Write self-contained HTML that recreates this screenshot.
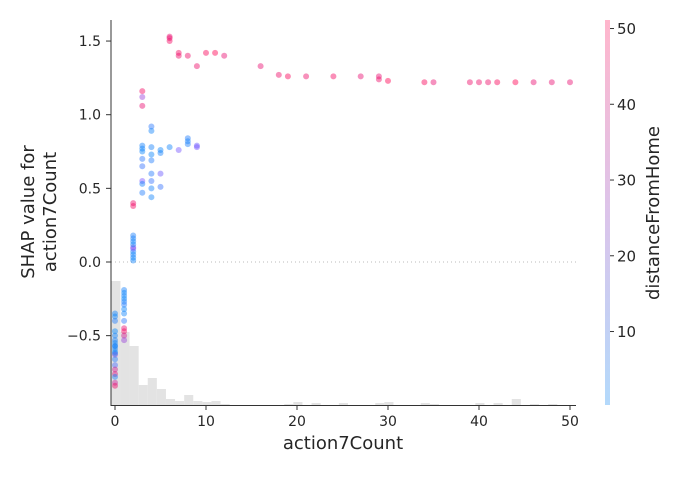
<!DOCTYPE html>
<html><head><meta charset="utf-8"><style>
body{margin:0;background:#fff;}
svg text{font-family:"DejaVu Sans","Liberation Sans",sans-serif;fill:#262626;}
</style></head><body>
<svg id="chart" width="682" height="473" viewBox="0 0 682 473" xmlns="http://www.w3.org/2000/svg">
<defs>
<linearGradient id="cb" x1="0" y1="1" x2="0" y2="0">
<stop offset="0" stop-color="#b3d9fb"/>
<stop offset="0.5" stop-color="#dcc4ea"/>
<stop offset="1" stop-color="#ffb6cc"/>
</linearGradient>
</defs>
<g id="hist"></g>
<line x1="111" y1="262" x2="576" y2="262" stroke="#bbb" stroke-width="1" stroke-dasharray="1,3"/>
<g id="pts"></g>
<line x1="111" y1="20" x2="111" y2="405.5" stroke="#333" stroke-width="1"/>
<line x1="110.5" y1="405.5" x2="576" y2="405.5" stroke="#333" stroke-width="1"/>
<g id="xt"></g>
<g id="yt"></g>
<text x="343" y="449" font-size="18" text-anchor="middle">action7Count</text>
<g transform="translate(34,212) rotate(-90)">
<text x="0" y="0" font-size="18" text-anchor="middle">SHAP value for</text>
<text x="0" y="22" font-size="18" text-anchor="middle">action7Count</text>
</g>
<rect x="605" y="20" width="5" height="385" fill="url(#cb)"/>
<g id="ct"></g>
<text transform="translate(659,213) rotate(-90)" font-size="18" text-anchor="middle">distanceFromHome</text>
</svg>
<script>
const xTicks=[0,10,20,30,40,50];
const yTicks=[-0.5,0.0,0.5,1.0,1.5];
const yTickLabels=["−0.5","0.0","0.5","1.0","1.5"];
const cTicks=[10,20,30,40,50];
const histCounts=[124,73,59,20,27,16,6,4,10,4,3,4,1,0,0,0,0,0,0,1,3,0,2,0,0,2,0,0,0,2,3,0,0,0,2,1,0,0,0,0,2,0,2,0,6,0,1,0,1,0];
const ptX=[0,0,0,0,0,0,0,0,0,0,0,0,0,0,0,0,0,0,0,0,1,1,1,1,1,1,1,1,1,1,1,1,1,2,2,2,2,2,2,2,2,2,2,2,2,3,3,3,3,3,3,3,3,3,3,3,4,4,4,4,4,4,4,4,4,5,5,5,5,6,6,6,6,7,7,7,8,8,8,8,9,9,9,10,11,12,16,18,19,21,24,27,29,29,30,34,35,39,40,41,42,44,46,48,50];
const ptY=[-0.35,-0.37,-0.40,-0.47,-0.50,-0.53,-0.55,-0.57,-0.59,-0.61,-0.63,-0.62,-0.66,-0.70,-0.73,-0.76,-0.78,-0.82,-0.84,-0.57,-0.19,-0.21,-0.23,-0.25,-0.27,-0.29,-0.32,-0.35,-0.40,-0.45,-0.47,-0.50,-0.53,0.01,0.03,0.05,0.07,0.09,0.10,0.12,0.14,0.16,0.18,0.38,0.40,1.06,1.12,1.16,0.79,0.77,0.75,0.70,0.65,0.55,0.53,0.47,0.92,0.89,0.78,0.73,0.69,0.60,0.55,0.50,0.44,0.76,0.74,0.60,0.51,0.78,1.50,1.52,1.53,0.76,1.42,1.40,0.84,0.82,0.80,1.40,0.79,0.78,1.33,1.42,1.42,1.40,1.33,1.27,1.26,1.26,1.26,1.26,1.26,1.24,1.23,1.22,1.22,1.22,1.22,1.22,1.22,1.22,1.22,1.22,1.22];
const ptC=[5,4,8,3,5,6,4,7,5,4,30,6,8,15,40,42,6,38,45,5,6,4,5,3,7,8,4,5,10,44,46,40,30,5,4,6,5,20,28,4,5,6,7,46,45,44,30,46,6,5,4,10,12,25,6,8,10,5,6,4,8,9,12,6,5,4,6,22,12,5,46,45,44,24,46,45,8,6,7,45,22,24,45,47,50,44,44,45,47,45,46,44,44,45,48,47,44,45,45,45,47,52,44,44,44];
const X=v=>115+v*9.1;
const Y=v=>262-v*147.3;
const C=v=>405-(v-0.3)*7.575;
const NS="http://www.w3.org/2000/svg";
function mk(t,p,a){const e=document.createElementNS(NS,t);for(const k in a)e.setAttribute(k,a[k]);p.appendChild(e);return e;}
const hist=document.getElementById('hist');
histCounts.forEach((c,i)=>{if(!c)return;const x0=X(i-0.4),x1=X(i+0.6);
const r=mk('rect',hist,{x:x0,y:405-c,width:x1-x0,height:c,fill:'#e3e3e3'});

});
function col(v){let t=Math.max(0,Math.min(1,(v-2)/46));
const a=[0,139,251],b=[124,82,255],c=[255,0,82];let r,g,bl;
if(t<0.5){const s=t*2;r=a[0]+(b[0]-a[0])*s;g=a[1]+(b[1]-a[1])*s;bl=a[2]+(b[2]-a[2])*s;}
else{const s=(t-0.5)*2;r=b[0]+(c[0]-b[0])*s;g=b[1]+(c[1]-b[1])*s;bl=b[2]+(c[2]-b[2])*s;}
return `rgb(${r|0},${g|0},${bl|0})`;}
const pts=document.getElementById('pts');
ptX.forEach((x,i)=>{const c=mk('circle',pts,{cx:X(x),cy:Y(ptY[i]),r:3,fill:col(ptC[i]),'fill-opacity':0.45});

});
const xt=document.getElementById('xt');
xTicks.forEach(v=>{mk('line',xt,{x1:X(v),x2:X(v),y1:405.5,y2:410,stroke:'#333'});
const t=mk('text',xt,{x:X(v),y:426,'font-size':14,'text-anchor':'middle'});t.textContent=v;

});
const yt=document.getElementById('yt');
yTicks.forEach((v,i)=>{mk('line',yt,{x1:106,x2:111,y1:Y(v),y2:Y(v),stroke:'#333'});
const t=mk('text',yt,{x:101,y:Y(v)+5,'font-size':14,'text-anchor':'end'});t.textContent=yTickLabels[i];

});
const ct=document.getElementById('ct');
cTicks.forEach(v=>{mk('line',ct,{x1:610,x2:614,y1:C(v),y2:C(v),stroke:'#333'});
const t=mk('text',ct,{x:617,y:C(v)+5.5,'font-size':15});t.textContent=v;

});
</script>
</body></html>
